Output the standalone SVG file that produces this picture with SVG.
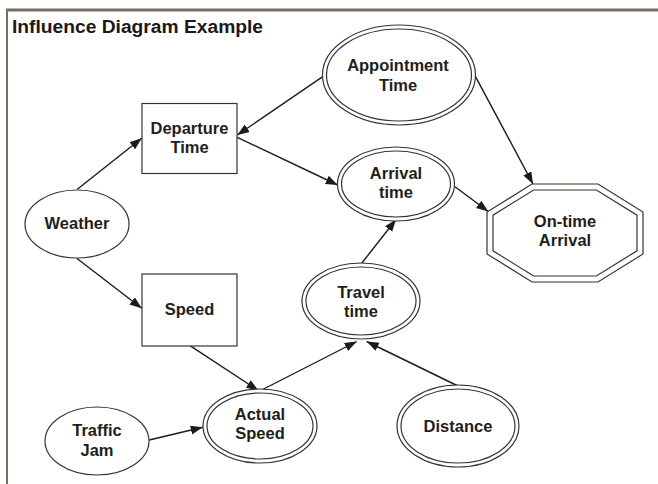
<svg xmlns="http://www.w3.org/2000/svg" width="658" height="484" viewBox="0 0 658 484">
  <style>
    .frame { stroke: #7a6d5c; fill: none; }
    .shape { fill: #ffffff; stroke: #3a322b; stroke-width: 1.2; }
    .inner { fill: none; stroke: #3a322b; stroke-width: 1.2; }
    .label { font-family: "Liberation Sans", Arial, sans-serif; font-weight: bold; font-size: 16.5px; fill: #231e1a; text-anchor: middle; }
    .title { font-family: "Liberation Sans", Arial, sans-serif; font-weight: bold; font-size: 17.5px; fill: #1c1814; }
    .edge { stroke: #1e1a16; stroke-width: 1.4; fill: none; marker-end: url(#arrow); }
  </style>
  <defs>
    <marker id="arrow" markerUnits="userSpaceOnUse" markerWidth="13" markerHeight="10" refX="12" refY="4.5" orient="auto">
      <path d="M0,0 L12,4.5 L0,9 Z" fill="#1e1a16"/>
    </marker>
  </defs>

  <rect width="658" height="484" fill="#ffffff"/>

  <!-- panel frame -->
  <line class="frame" x1="6" y1="10" x2="658" y2="10" stroke-width="3"/>
  <line class="frame" x1="7" y1="10" x2="7" y2="484" stroke-width="2"/>
  <text class="title" x="12" y="33" textLength="251" lengthAdjust="spacingAndGlyphs">Influence Diagram Example</text>

  <!-- connectors -->
  <g id="edges">
    <line class="edge" x1="77.3" y1="189.3" x2="141.7" y2="138.3"/>
    <line class="edge" x1="76.7" y1="258.3" x2="141.7" y2="308.3"/>
    <line class="edge" x1="322.7" y1="76.7" x2="237.3" y2="135"/>
    <line class="edge" x1="237.3" y1="137.3" x2="337.7" y2="185"/>
    <line class="edge" x1="475.5" y1="76.7" x2="533" y2="184"/>
    <line class="edge" x1="455" y1="186.7" x2="488.3" y2="211.5"/>
    <line class="edge" x1="361.7" y1="263.3" x2="396" y2="219.5"/>
    <line class="edge" x1="190" y1="345.7" x2="258.3" y2="390.5"/>
    <line class="edge" x1="261.7" y1="390" x2="356.7" y2="341.5"/>
    <line class="edge" x1="458" y1="386" x2="366.7" y2="341.5"/>
    <line class="edge" x1="149.3" y1="440" x2="202.7" y2="427.3"/>
  </g>

  <!-- nodes -->
  <g id="appointment-time">
    <ellipse class="shape" cx="399" cy="75" rx="76.5" ry="50"/>
    <ellipse class="inner" cx="399" cy="75" rx="72.5" ry="46"/>
    <text class="label" x="398" y="71">Appointment</text>
    <text class="label" x="398" y="90.5">Time</text>
  </g>

  <g id="departure-time">
    <rect class="shape" x="142" y="103.5" width="95" height="70"/>
    <text class="label" x="189.5" y="133.5">Departure</text>
    <text class="label" x="189.5" y="152.5">Time</text>
  </g>

  <g id="weather">
    <ellipse class="shape" cx="77" cy="224" rx="52" ry="34"/>
    <text class="label" x="77" y="229">Weather</text>
  </g>

  <g id="arrival-time">
    <ellipse class="shape" cx="396" cy="184" rx="58.5" ry="37"/>
    <ellipse class="inner" cx="396" cy="184" rx="54.5" ry="33"/>
    <text class="label" x="396" y="179.3">Arrival</text>
    <text class="label" x="396" y="198.3">time</text>
  </g>

  <g id="on-time-arrival">
    <polygon class="shape" points="532,184 598,184 643,212 643,254 598,282 532,282 487,254 487,212"/>
    <polygon class="inner" points="533.6,190 596.4,190 637,215.2 637,250.8 596.4,276 533.6,276 493,250.8 493,215.2"/>
    <text class="label" x="565" y="226.7">On-time</text>
    <text class="label" x="565" y="246">Arrival</text>
  </g>

  <g id="speed">
    <rect class="shape" x="142" y="274" width="95" height="72"/>
    <text class="label" x="189.5" y="315">Speed</text>
  </g>

  <g id="travel-time">
    <ellipse class="shape" cx="361" cy="301" rx="59" ry="38"/>
    <ellipse class="inner" cx="361" cy="301" rx="55" ry="34"/>
    <text class="label" x="361" y="297.7">Travel</text>
    <text class="label" x="361" y="316.7">time</text>
  </g>

  <g id="actual-speed">
    <ellipse class="shape" cx="260" cy="426" rx="57" ry="37"/>
    <ellipse class="inner" cx="260" cy="426" rx="53" ry="33"/>
    <text class="label" x="260" y="420">Actual</text>
    <text class="label" x="260" y="439.3">Speed</text>
  </g>

  <g id="traffic-jam">
    <ellipse class="shape" cx="97" cy="441" rx="52" ry="34"/>
    <text class="label" x="97" y="436">Traffic</text>
    <text class="label" x="97" y="455.7">Jam</text>
  </g>

  <g id="distance">
    <ellipse class="shape" cx="458" cy="426" rx="61" ry="41"/>
    <ellipse class="inner" cx="458" cy="426" rx="57" ry="37"/>
    <text class="label" x="458" y="431.7">Distance</text>
  </g>
</svg>
